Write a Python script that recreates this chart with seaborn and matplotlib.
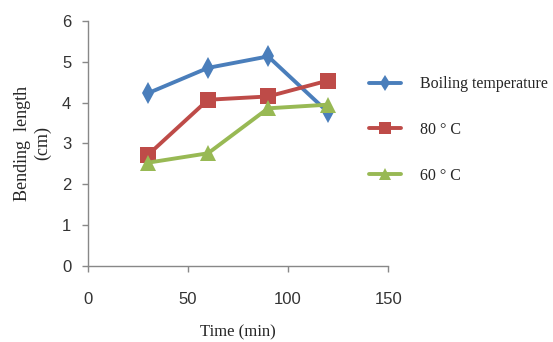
import pandas as pd
import matplotlib
matplotlib.use("Agg")
import matplotlib.pyplot as plt
import seaborn as sns

# Data
time_min = [30, 60, 90, 120]
boiling = [4.23, 4.85, 5.13, 3.76]
c80 = [2.72, 4.07, 4.15, 4.54]
c60 = [2.53, 2.76, 3.86, 3.95]
series_names = ["Boiling temperature", "80 ° C", "60 ° C"]

df = pd.DataFrame({
    "time": time_min * 3,
    "length": boiling + c80 + c60,
    "series": [series_names[0]] * 4 + [series_names[1]] * 4 + [series_names[2]] * 4,
})

sns.set_style("white")
plt.rcParams["font.family"] = ["Liberation Serif", "DejaVu Serif"]

colors = {series_names[0]: "#4A7EBB", series_names[1]: "#BE4B48", series_names[2]: "#98B954"}
markers = {series_names[0]: "d", series_names[1]: "s", series_names[2]: "^"}

fig = plt.figure(figsize=(5.53, 3.42), dpi=100)
ax = fig.add_axes([0.159, 0.222, 0.543, 0.717])

sns.lineplot(data=df, x="time", y="length", hue="series", style="series",
             palette=colors, markers=markers, dashes=False, linewidth=2.8,
             markersize=11, markeredgewidth=0, ax=ax)

ax.set_xlim(0, 150)
ax.set_ylim(0, 6)
ax.set_xticks([0, 50, 100, 150])
ax.set_yticks([0, 1, 2, 3, 4, 5, 6])

for s in ["top", "right"]:
    ax.spines[s].set_visible(False)
for s in ["left", "bottom"]:
    ax.spines[s].set_color("#888888")
    ax.spines[s].set_linewidth(1)

ax.tick_params(axis="both", direction="out", length=4, width=1, color="#888888",
               labelcolor="#333333", labelsize=12, left=True, bottom=True)
for lab in ax.get_xticklabels() + ax.get_yticklabels():
    lab.set_family(["Liberation Sans", "DejaVu Sans"])
ax.tick_params(axis="x", pad=15)
ax.tick_params(axis="y", pad=8)

ax.set_xlabel("Time (min)", fontsize=12, labelpad=12)
ax.set_ylabel("Bending  length\n(cm)", fontsize=13, labelpad=8, linespacing=1.15)

handles, labels = ax.get_legend_handles_labels()
ax.get_legend().remove()
for h in handles:
    h.set_markersize(8)
fig.legend(handles, labels, loc="upper left", bbox_to_anchor=(0.655, 0.795),
           frameon=False, fontsize=11.5, handlelength=2.0, labelspacing=1.85,
           handletextpad=1.2, borderaxespad=0)

fig.savefig("out.png", dpi=100)
